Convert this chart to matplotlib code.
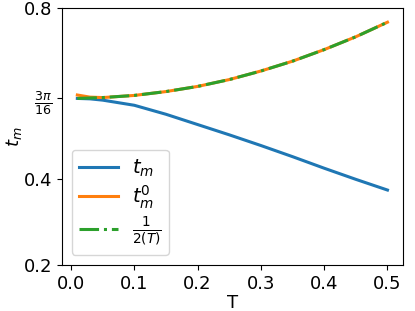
import numpy as np
import matplotlib
matplotlib.use('Agg')
import matplotlib.pyplot as plt

T = [0.01, 0.03, 0.05, 0.10, 0.15, 0.20, 0.25, 0.30, 0.35, 0.40, 0.45, 0.50]
t_m = [0.589, 0.588, 0.585, 0.573, 0.552, 0.528, 0.504, 0.479, 0.453, 0.426, 0.400, 0.375]
t_m0 = [0.597, 0.592, 0.591, 0.596, 0.605, 0.617, 0.633, 0.653, 0.676, 0.703, 0.733, 0.767]
inv_T = [0.589, 0.590, 0.591, 0.596, 0.605, 0.617, 0.633, 0.653, 0.676, 0.703, 0.733, 0.767]

yticks = [0.2, 0.4, 3 * np.pi / 16, 0.8]
yticklabels = ['0.2', '0.4', r'$\frac{3\pi}{16}$', '0.8']

fig = plt.figure(figsize=(4.15, 3.11), dpi=100)
ax = fig.add_axes([0.149, 0.148, 0.822, 0.826])

ax.plot(T, t_m, lw=2.2, label=r'$t_m$')
ax.plot(T, t_m0, lw=2.2, label=r'$t_m^0$')
ax.plot(T, inv_T, lw=2.2, ls='-.', label=r'$\frac{1}{2(T)}$')

ax.set_ylim(0.2, 0.8)
ax.set_yticks(yticks)
ax.set_yticklabels(yticklabels)
ax.tick_params(labelsize=13)
ax.set_xlabel('T', fontsize=13, labelpad=1)
ax.set_ylabel(r'$t_m$', fontsize=13, labelpad=0)
ax.legend(loc='lower left', fontsize=14, labelspacing=0.25, handlelength=2.0,
          handletextpad=0.7, borderpad=0.4)

fig.savefig('out.png', dpi=100)
